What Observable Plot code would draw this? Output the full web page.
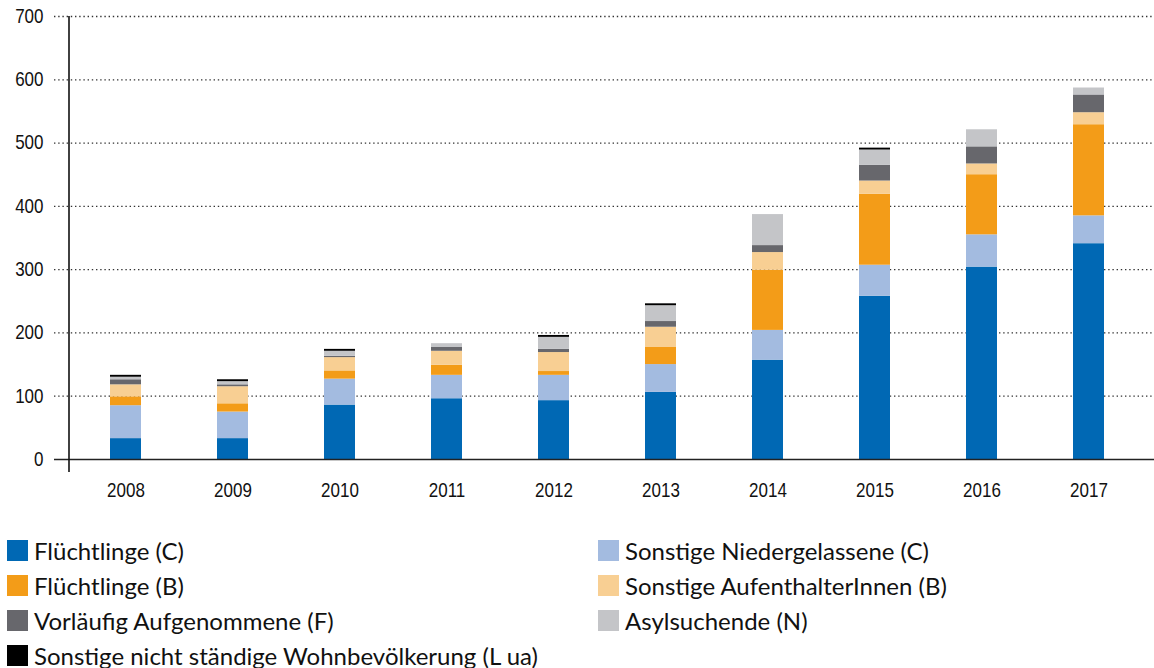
<!DOCTYPE html>
<html><head><meta charset="utf-8">
<script src="https://cdn.jsdelivr.net/npm/d3@7"></script>
<script src="https://cdn.jsdelivr.net/npm/@observablehq/plot@0.6"></script>
<style>
body{margin:0;background:#fff;}
#legend{display:grid;grid-template-columns:591px 1fr;margin-top:23px;padding-left:7px;font-family:Lato,"Open Sans",sans-serif;font-size:24px;color:#111;}
.item{display:flex;align-items:center;height:35px;white-space:nowrap;}
.sw{width:21px;height:21px;margin-right:6px;flex:none;}
</style></head><body><div id="chart"></div><div id="legend"></div>
<script>
const years = ["2008","2009","2010","2011","2012","2013","2014","2015","2016","2017"];
const seriesNames = [
  "Flüchtlinge (C)",
  "Sonstige Niedergelassene (C)",
  "Flüchtlinge (B)",
  "Sonstige AufenthalterInnen (B)",
  "Vorläufig Aufgenommene (F)",
  "Asylsuchende (N)",
  "Sonstige nicht ständige Wohnbevölkerung (L ua)"
];
const fluechtlingeC     = [33, 33, 86, 96, 93, 106, 157, 258, 304, 341];
const niedergelasseneC  = [52, 42, 41, 37, 40, 44, 47, 49, 51, 44];
const fluechtlingeB     = [14, 13, 13, 16, 6, 27, 95, 112, 95, 144];
const aufenthalterB     = [19, 27, 21, 22, 30, 32, 28, 21, 17, 19];
const vorlaeufigF       = [8, 3, 2, 6, 5, 9, 11, 25, 27, 28];
const asylN             = [4, 5, 8, 6, 19, 25, 49, 24, 27, 11];
const sonstigeL         = [3, 3, 3, 0, 3, 3, 0, 3, 0, 0];
const yTicks = [0, 100, 200, 300, 400, 500, 600, 700];
const colors = ["#0068b4", "#a3bbe0", "#f39c18", "#f8cf93", "#67676c", "#c4c5c8", "#000000"];

const seriesValues = [fluechtlingeC, niedergelasseneC, fluechtlingeB, aufenthalterB, vorlaeufigF, asylN, sonstigeL];
const data = years.flatMap((yr, i) => seriesValues.map((vals, j) => ({year: yr, series: seriesNames[j], value: vals[i]})));

const xRange = [69, 1146];
const axisFont = "'Liberation Sans',Arial,sans-serif";

const chart = Plot.plot({
  width: 1154,
  height: 510,
  marginLeft: 54,
  marginRight: 0,
  marginTop: 16,
  marginBottom: 38,
  style: {fontFamily: axisFont, fontSize: "20px", color: "#111", background: "#fff"},
  x: {domain: years, range: xRange, paddingInner: 0.71, paddingOuter: 0.37, label: null},
  y: {domain: [0, 700], range: [459, 16], label: null},
  color: {domain: seriesNames, range: colors},
  marks: [
    Plot.gridY(yTicks.filter(d => d > 0), {stroke: "#333", strokeOpacity: 1, strokeWidth: 1.3, strokeDasharray: "1.4,2.8"}),
    Plot.barY(data, {x: "year", y: "value", fill: "series", order: null}),
    Plot.ruleY([0], {stroke: "#222", strokeWidth: 1.6}),
    (index, scales, values, dims) => {
      const line = document.createElementNS("http://www.w3.org/2000/svg", "line");
      const yTop = typeof scales.y === "function" ? scales.y(700) : dims.marginTop;
      line.setAttribute("x1", xRange[0]);
      line.setAttribute("x2", xRange[0]);
      line.setAttribute("y1", yTop);
      line.setAttribute("y2", dims.height - dims.marginBottom);
      line.setAttribute("stroke", "#111");
      line.setAttribute("stroke-width", 1.6);
      return line;
    },
    Plot.axisY(yTicks, {tickSize: 0, tickPadding: 11, label: null, fontSize: 20, fontWeight: 500}),
    Plot.axisX({tickSize: 0, tickPadding: 10, label: null, fontSize: 20, fontWeight: 500})
  ]
});
document.getElementById("chart").appendChild(chart);

// condense the axis tick labels (the original uses a narrow typeface)
chart.querySelectorAll('g[aria-label$="tick label"] text').forEach(t => {
  const tr = t.getAttribute("transform") || "";
  t.setAttribute("transform", tr + " scale(0.85,1)");
});

const legend = document.getElementById("legend");
seriesNames.forEach((name, i) => {
  const item = document.createElement("div");
  item.className = "item";
  const sw = document.createElement("span");
  sw.className = "sw";
  sw.style.background = colors[i];
  const label = document.createElement("span");
  label.textContent = name;
  item.appendChild(sw);
  item.appendChild(label);
  legend.appendChild(item);
});
</script>
</body></html>
